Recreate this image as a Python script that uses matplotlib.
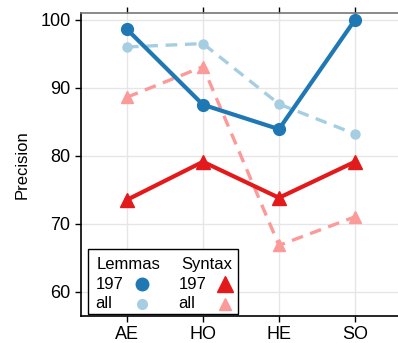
import matplotlib.pyplot as plt
from matplotlib.patches import Rectangle

plt.rcParams['font.family'] = ['Liberation Sans', 'DejaVu Sans']

# data
langs = ["AE", "HO", "HE", "SO"]
lemmas_197 = [98.6, 87.5, 83.9, 100.0]
lemmas_all = [96.0, 96.5, 87.6, 83.2]
syntax_197 = [73.5, 79.1, 73.8, 79.1]
syntax_all = [88.6, 93.1, 66.8, 71.0]

c_dark_blue = "#1f78b4"
c_light_blue = "#a6cee3"
c_red = "#e31a1c"
c_pink = "#fb9a99"

fig = plt.figure(figsize=(3.98, 3.43), dpi=100)
ax = fig.add_axes([0.2035, 0.0787, 0.7965, 0.8834])
x = list(range(len(langs)))

ax.set_axisbelow(True)
ax.grid(True, color="#e6e6e6", linewidth=1.0)

ax.plot(x, lemmas_all, color=c_light_blue, lw=2.4, dashes=(3.5, 2.3),
        marker="o", ms=6.5, zorder=2)
ax.plot(x, syntax_all, color=c_pink, lw=2.4, dashes=(3.5, 2.3),
        marker="^", ms=8, zorder=2)
ax.plot(x, syntax_197, color=c_red, lw=3, marker="^", ms=10, zorder=3)
ax.plot(x, lemmas_197, color=c_dark_blue, lw=3, marker="o", ms=8.5, zorder=4)

ax.set_xlim(-0.605, 3.566)
ax.set_ylim(56.4, 101)
ax.set_xticks(x)
ax.set_xticklabels(langs, fontsize=13)
ax.set_yticks([60, 70, 80, 90, 100])
ax.tick_params(axis="y", labelsize=13, length=4, width=1, colors="black")
ax.tick_params(axis="x", length=4, width=1, top=True, labeltop=False)
ax.set_ylabel("Precision", fontsize=12, labelpad=8)

ax.spines["right"].set_visible(False)
ax.spines["top"].set_color("#777777")
ax.spines["top"].set_linewidth(1.2)
ax.spines["left"].set_linewidth(1.2)
ax.spines["bottom"].set_linewidth(1.2)

# hand-built legend: two titled columns, text then marker
tr = ax.transAxes
ax.add_patch(Rectangle((0.022, 0.008), 0.473, 0.213, transform=tr,
                       facecolor="white", edgecolor="black", lw=1.0,
                       zorder=10, clip_on=False))
rows = [0.170, 0.104, 0.040]
cols = [
    ("Lemmas", 0.048, 0.045, 0.192,
     [("197", "o", 9, c_dark_blue), ("all", "o", 7, c_light_blue)]),
    ("Syntax", 0.317, 0.307, 0.454,
     [("197", "^", 11, c_red), ("all", "^", 9, c_pink)]),
]
for title, tx, lx, mx, entries in cols:
    ax.text(tx, rows[0], title, transform=tr, fontsize=12, va="center",
            ha="left", zorder=11)
    for (lab, mk, ms, col), ry in zip(entries, rows[1:]):
        ax.text(lx, ry, lab, transform=tr, fontsize=12, va="center",
                ha="left", zorder=11)
        ax.plot([mx], [ry], transform=tr, marker=mk, ms=ms, color=col,
                linestyle="none", zorder=11, clip_on=False)

fig.savefig("out.png", dpi=100)
